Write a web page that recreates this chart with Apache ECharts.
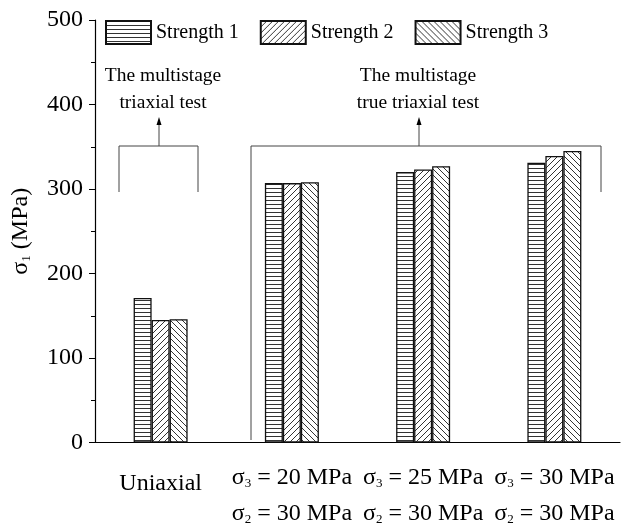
<!DOCTYPE html>
<html>
<head>
<meta charset="utf-8">
<script src="https://cdn.jsdelivr.net/npm/echarts@6/dist/echarts.min.js"></script>
<style>
  html, body { margin: 0; padding: 0; background: #fff; }
  #chart { width: 623px; height: 526px; }
</style>
</head>
<body>
<div id="chart"></div>
<script>
// Loading conditions (category axis)
const categories = ['Uniaxial', 'T20', 'T25', 'T30'];
const sigma3 = [null, 20, 25, 30];
const sigma2 = [null, 30, 30, 30];

// Peak strength σ1 (MPa) for each strength criterion
const seriesNames = ['Strength 1', 'Strength 2', 'Strength 3'];
const strength1 = [171, 307, 320, 331];
const strength2 = [145, 307, 323, 339];
const strength3 = [146, 308, 327, 345];

const yTicks = [0, 100, 200, 300, 400, 500];

const FONT = '"Liberation Serif", "Times New Roman", serif';

// Hatch fills drawn on small tiles
function hatch(kind) {
  const c = document.createElement('canvas');
  const s = kind === 'h' ? 4 : 6;
  c.width = s; c.height = s;
  const g = c.getContext('2d');
  g.fillStyle = '#fff';
  g.fillRect(0, 0, s, s);
  g.strokeStyle = '#333';
  g.lineWidth = 1;
  g.beginPath();
  if (kind === 'h') {
    g.moveTo(0, 0.5); g.lineTo(s, 0.5);
  } else if (kind === 'f') {
    g.moveTo(-1, s + 1); g.lineTo(s + 1, -1);
    g.moveTo(-1, 1); g.lineTo(1, -1);
    g.moveTo(s - 1, s + 1); g.lineTo(s + 1, s - 1);
  } else {
    g.moveTo(-1, -1); g.lineTo(s + 1, s + 1);
    g.moveTo(s - 1, -1); g.lineTo(s + 1, 1);
    g.moveTo(-1, s - 1); g.lineTo(1, s + 1);
  }
  g.stroke();
  return { image: c, repeat: 'repeat' };
}
const fills = [hatch('h'), hatch('f'), hatch('b')];
const values = [strength1, strength2, strength3];

function catLabel(v, i) {
  if (sigma3[i] == null) return '{u|' + v + '}';
  return '{t|σ}{sub|3}{t| = ' + sigma3[i] + ' MPa}\n{t|σ}{sub|2}{t| = ' + sigma2[i] + ' MPa}';
}

const chart = echarts.init(document.getElementById('chart'), null, { renderer: 'canvas' });

const option = {
  animation: false,
  backgroundColor: '#fff',
  grid: { left: 95, right: 3, top: 20, bottom: 81, containLabel: false },
  legend: {
    top: 20, left: 105, padding: 0,
    icon: 'rect',
    itemWidth: 45, itemHeight: 23, itemGap: 21,
    textStyle: { fontFamily: FONT, fontSize: 20, color: '#000' },
    data: seriesNames
  },
  xAxis: [{
    type: 'category',
    data: categories,
    axisLine: { lineStyle: { color: '#000', width: 1.2 } },
    axisTick: { alignWithLabel: true, length: 8, lineStyle: { color: '#000' } },
    axisLabel: {
      interval: 0,
      margin: 17,
      formatter: catLabel,
      rich: {
        u: { fontFamily: FONT, fontSize: 24, color: '#000', lineHeight: 36, padding: [12, 0, 0, 0] },
        t: { fontFamily: FONT, fontSize: 24, color: '#000', lineHeight: 36 },
        sub: { fontFamily: FONT, fontSize: 13, color: '#000', lineHeight: 36, padding: [12, 0, 0, 0] }
      }
    }
  }, {
    type: 'category',
    data: categories,
    position: 'bottom',
    axisLine: { show: false },
    axisTick: { length: 5, lineStyle: { color: '#000' } },
    axisLabel: { show: false }
  }],
  yAxis: {
    type: 'value',
    min: 0, max: 500, interval: 100,
    name: '{t|σ}{sub|1}{t| (MPa)}',
    nameLocation: 'middle',
    nameGap: 62,
    nameRotate: 90,
    nameTextStyle: {
      rich: {
        t: { fontFamily: FONT, fontSize: 24, color: '#000' },
        sub: { fontFamily: FONT, fontSize: 13, color: '#000', padding: [12, 0, 0, 0] }
      }
    },
    axisLine: { show: true, lineStyle: { color: '#000', width: 1.2 } },
    axisTick: { show: true, length: 6, lineStyle: { color: '#000' } },
    minorTick: { show: true, splitNumber: 2, length: 4, lineStyle: { color: '#000' } },
    splitLine: { show: false },
    axisLabel: {
      fontFamily: FONT, fontSize: 24, color: '#000', margin: 12,
      formatter: v => (yTicks.indexOf(v) >= 0 ? String(v) : '')
    }
  },
  series: seriesNames.map((name, k) => ({
    name: name,
    type: 'bar',
    data: values[k],
    barWidth: 18,
    barGap: '0%',
    itemStyle: { color: fills[k], borderColor: '#111', borderWidth: 1.3 }
  })),
  graphic: [
    // bracket over the conventional triaxial group
    { type: 'polyline', shape: { points: [[119, 192], [119, 146], [198, 146], [198, 192]] },
      style: { stroke: '#444', lineWidth: 1, fill: null } },
    { type: 'line', shape: { x1: 159, y1: 146, x2: 159, y2: 124 }, style: { stroke: '#444', lineWidth: 1 } },
    { type: 'polygon', shape: { points: [[159, 117], [156.5, 125], [161.5, 125]] }, style: { fill: '#000' } },
    { type: 'text', style: { text: 'The multistage\ntriaxial test', x: 163, y: 62, align: 'center',
      font: '19.5px ' + FONT, fill: '#000', lineHeight: 27 } },
    // bracket over the true triaxial groups
    { type: 'polyline', shape: { points: [[251, 440], [251, 146], [601, 146], [601, 192]] },
      style: { stroke: '#444', lineWidth: 1, fill: null } },
    { type: 'line', shape: { x1: 419, y1: 146, x2: 419, y2: 124 }, style: { stroke: '#444', lineWidth: 1 } },
    { type: 'polygon', shape: { points: [[419, 117], [416.5, 125], [421.5, 125]] }, style: { fill: '#000' } },
    { type: 'text', style: { text: 'The multistage\ntrue triaxial test', x: 418, y: 62, align: 'center',
      font: '19.5px ' + FONT, fill: '#000', lineHeight: 27 } }
  ]
};

chart.setOption(option);
</script>
</body>
</html>
